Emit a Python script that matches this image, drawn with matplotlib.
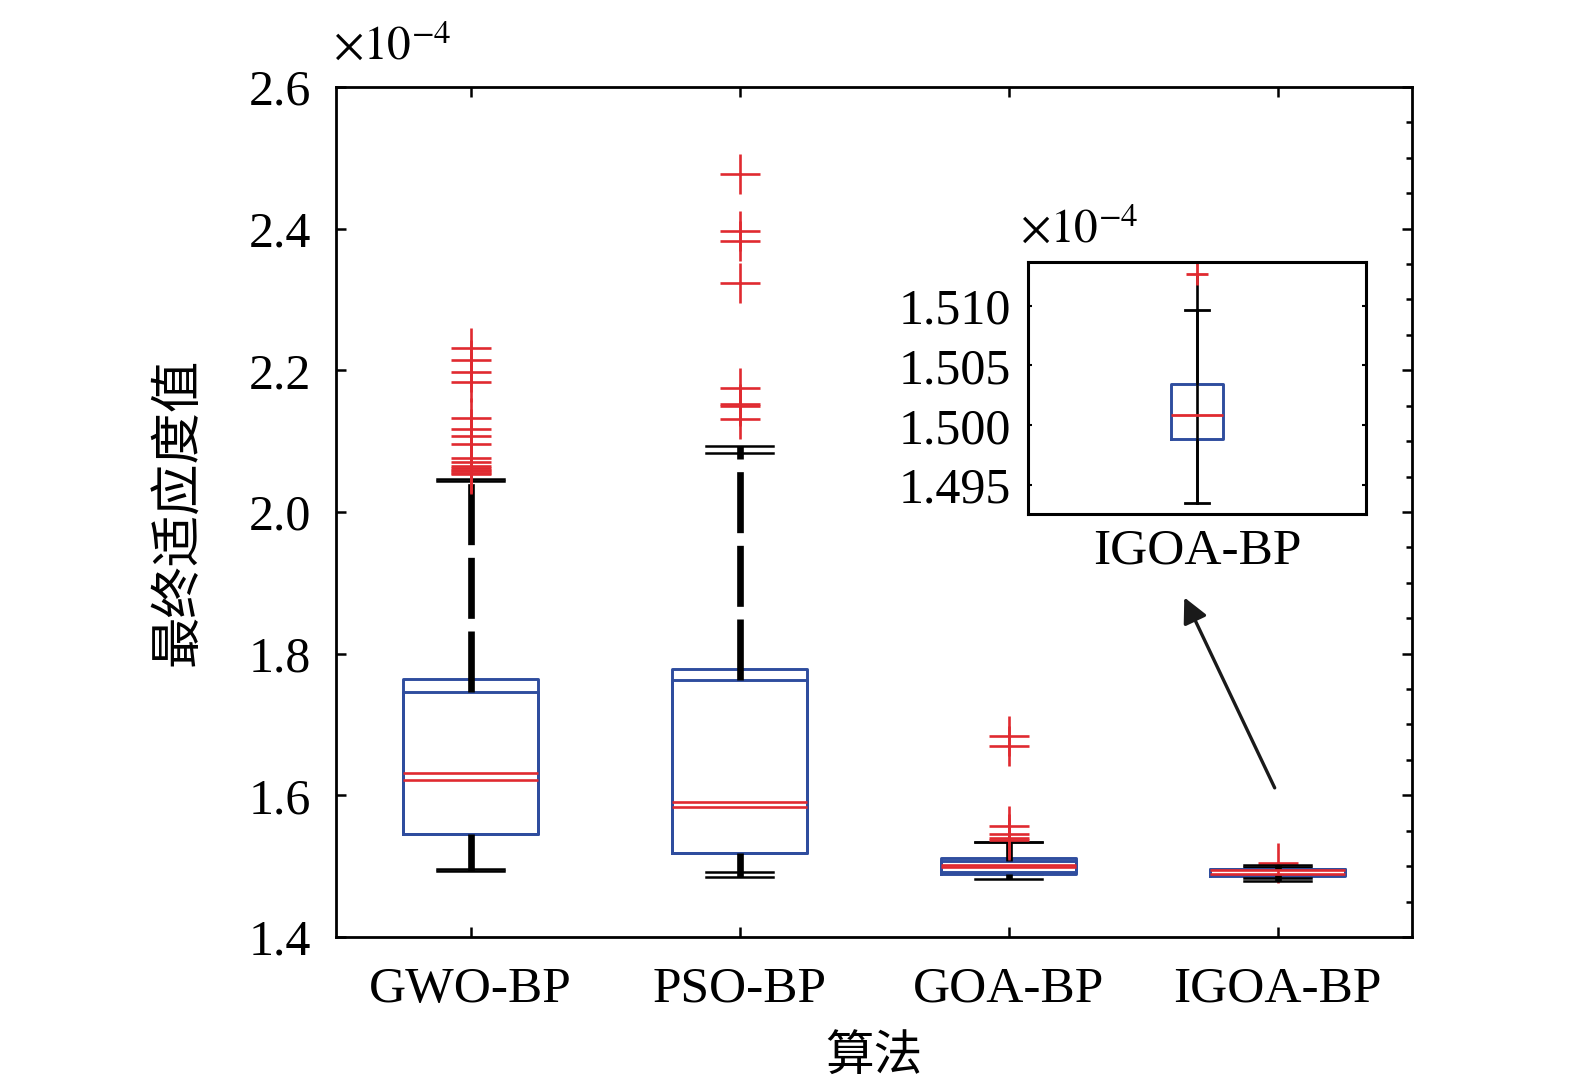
import matplotlib
matplotlib.use('Agg')
import matplotlib.pyplot as plt
from matplotlib.ticker import MultipleLocator, FormatStrFormatter

plt.rcParams['font.family'] = ['Liberation Serif', 'Noto Sans CJK SC']
plt.rcParams['mathtext.fontset'] = 'stix'

# datos (x1e-4)
suanfa = ['GWO-BP', 'PSO-BP', 'GOA-BP', 'IGOA-BP']

# serie A: caja exterior
q1_a = [1.545, 1.518, 1.4915, 1.4861]
q3_a = [1.764, 1.779, 1.5115, 1.4967]
med_a = [1.632, 1.590, 1.5015, 1.4942]
wlo_a = [1.4965, 1.492, 1.4885, 1.4833]
whi_a = [2.046, 2.084, 1.534, 1.4988]
fl_a = [[2.232, 2.214, 2.198, 2.183, 2.133, 2.117, 2.108, 2.096, 2.076, 2.071, 2.062, 2.058],
        [2.477, 2.397, 2.383, 2.323],
        [1.684, 1.669, 1.557],
        [1.5045]]

# serie B: caja interior
q1_b = [1.545, 1.5185, 1.489, 1.4875]
q3_b = [1.746, 1.763, 1.507, 1.4953]
med_b = [1.622, 1.583, 1.4988, 1.4889]
wlo_b = [1.4935, 1.485, 1.482, 1.4791]
whi_b = [2.044, 2.093, 1.534, 1.5023]
fl_b = [[2.065, 2.060, 2.055, 2.053],
        [2.175, 2.153, 2.149, 2.132],
        [1.545, 1.540, 1.537],
        []]

# zoom IGOA-BP
zq1 = 1.49889
zq3 = 1.50344
zmed = 1.50087
zwlo = 1.49349
zwhi = 1.50967
zfl = [1.51268]

azul = '#2f4d9e'
rojo = '#e02a30'

def stats(q1, q3, med, wlo, whi, fl):
    lista = []
    for i in range(len(q1)):
        lista.append({'q1': q1[i], 'q3': q3[i], 'med': med[i],
                      'whislo': wlo[i], 'whishi': whi[i], 'fliers': fl[i]})
    return lista

fig = plt.figure(figsize=(15.75, 10.86), dpi=100)
ax = fig.add_axes([336/1575, 1-937/1086, 1076/1575, 850/1086])
pos = [1, 2, 3, 4]

comun = dict(positions=pos, widths=0.5, capwidths=0.25, manage_ticks=False,
             boxprops=dict(color=azul, lw=2.1),
             medianprops=dict(color=rojo, lw=1.9),
             capprops=dict(color='black', lw=1.8),
             flierprops=dict(marker='+', markersize=29, markeredgewidth=1.9,
                             markeredgecolor=rojo))
ax.bxp(stats(q1_a, q3_a, med_a, wlo_a, whi_a, fl_a),
       whiskerprops=dict(visible=False), **comun)
ax.bxp(stats(q1_b, q3_b, med_b, wlo_b, whi_b, fl_b),
       whiskerprops=dict(color='black', lw=4.8, linestyle=(0, (9.15, 1.9))), **comun)

ax.set_xlim(0.5, 4.5)
ax.set_ylim(1.4, 2.6)
ax.set_xticks(pos)
ax.set_xticklabels(suanfa)
ax.yaxis.set_major_locator(MultipleLocator(0.2))
ax.yaxis.set_major_formatter(FormatStrFormatter('%.1f'))
ax.yaxis.set_minor_locator(MultipleLocator(0.05))
ax.tick_params(which='major', direction='in', length=7, width=1.8, labelsize=36,
               top=True, right=True, pad=18)
ax.tick_params(axis='x', pad=21, labelsize=37)
ax.tick_params(which='minor', direction='in', length=4, width=1.8,
               left=False, right=True)
for s in ax.spines.values():
    s.set_linewidth(2)

ax.set_ylabel('最终适应度值', fontsize=37, family=['Noto Sans CJK SC'])
ax.yaxis.set_label_coords(-0.122, 0.5)
ax.set_xlabel('算法', fontsize=35, family=['Noto Sans CJK SC'])
ax.xaxis.set_label_coords(0.5, -0.112)

fig.text(333/1575, 1-60/1086, r'$\times10^{-4}$', fontsize=34, ha='left', va='baseline')

# flecha
ax.annotate('', xy=(3.649, 1.883), xytext=(3.994, 1.607),
            arrowprops=dict(arrowstyle='-|>', lw=2.4, color='#1a1a1a', mutation_scale=38))

# grafica pequeña
axin = fig.add_axes([1028/1575, 1-514/1086, 338/1575, 252/1086])
axin.bxp([{'q1': zq1, 'q3': zq3, 'med': zmed, 'whislo': zwlo, 'whishi': zwhi, 'fliers': zfl}],
         positions=[1], widths=0.155, capwidths=0.073, manage_ticks=False,
         boxprops=dict(color=azul, lw=2.1),
         medianprops=dict(color=rojo, lw=2.0),
         capprops=dict(color='black', lw=2.0),
         whiskerprops=dict(color='black', lw=1.9),
         flierprops=dict(marker='+', markersize=16, markeredgewidth=2.0,
                         markeredgecolor=rojo))
axin.plot([1, 1], [zwlo, max(zfl)], color='black', lw=1.9, zorder=1)
axin.set_xlim(0.5, 1.5)
axin.set_ylim(1.49258, 1.51365)
axin.set_xticks([1])
axin.set_xticklabels(['IGOA-BP'])
axin.set_yticks([1.495, 1.500, 1.505, 1.510])
axin.yaxis.set_major_formatter(FormatStrFormatter('%.3f'))
axin.tick_params(direction='in', length=3, width=1.5, labelsize=36, right=True, pad=12)
axin.tick_params(axis='x', length=0, pad=10, labelsize=37)
for s in axin.spines.values():
    s.set_linewidth(2.2)
fig.text(1020/1575, 1-243/1086, r'$\times10^{-4}$', fontsize=34, ha='left', va='baseline')

fig.savefig('out.png', dpi=100)
